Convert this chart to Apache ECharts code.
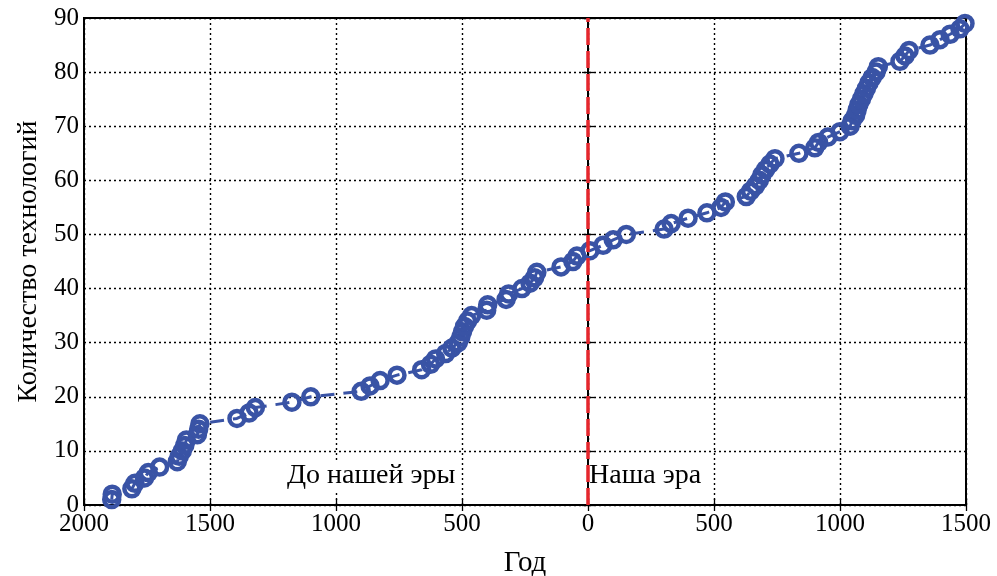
<!DOCTYPE html>
<html>
<head>
<meta charset="utf-8">
<script src="https://cdn.jsdelivr.net/npm/echarts@6/dist/echarts.min.js"></script>
<style>html,body{margin:0;padding:0;background:#fff}#c{width:997px;height:576px}</style>
</head>
<body>
<div id="c"></div>
<script>
// Years (negative = BC) and cumulative count of technologies
const years = [-1890,-1888,-1810,-1798,-1760,-1745,-1700,-1630,-1622,-1610,
  -1600,-1594,-1550,-1545,-1540,-1393,-1345,-1320,-1175,-1100,
  -900,-865,-825,-758,-660,-625,-605,-565,-540,-515,
  -505,-498,-490,-478,-462,-402,-398,-325,-315,-262,
  -230,-212,-203,-107,-60,-44,8,60,100,152,
  302,330,397,472,528,545,628,645,665,680,
  690,705,722,742,837,900,915,952,1000,1040,
  1048,1062,1068,1075,1085,1095,1105,1115,1128,1143,
  1152,1238,1258,1274,1357,1397,1437,1476,1496];
const counts = [1,2,3,4,5,6,7,8,9,10,
  11,12,13,14,15,16,17,18,19,20,
  21,22,23,24,25,26,27,28,29,30,
  31,32,33,34,35,36,37,38,39,40,
  41,42,43,44,45,46,47,48,49,50,
  51,52,53,54,55,56,57,58,59,60,
  61,62,63,64,65,66,67,68,69,70,
  71,72,73,74,75,76,77,78,79,80,
  81,82,83,84,85,86,87,88,89];
const xTicks = [-2000,-1500,-1000,-500,0,500,1000,1500];
const yTicks = [0,10,20,30,40,50,60,70,80,90];
const eraLabels = ['До нашей эры','Наша эра'];
const xTitle = 'Год';
const yTitle = 'Количество технологий';

const FONT = '"Liberation Serif", "DejaVu Serif", serif';
const data = years.map((y, i) => [y, counts[i]]);
const blue = '#3953a5';

const chart = echarts.init(document.getElementById('c'));
const gridLine = {show: true, lineStyle: {color: '#000', type: [2, 3], width: 1.4}};
chart.setOption({
  animation: false,
  backgroundColor: '#fff',
  grid: {left: 84, right: 31, top: 18, bottom: 71, show: true, borderColor: '#000', borderWidth: 2,
         containLabel: false, outerBoundsMode: 'none'},
  xAxis: [{
    type: 'value', min: xTicks[0], max: xTicks[xTicks.length - 1], interval: 500,
    name: xTitle, nameLocation: 'middle', nameGap: 44,
    nameTextStyle: {fontFamily: FONT, fontSize: 29, color: '#000'},
    axisLine: {show: true, onZero: false, lineStyle: {color: '#000', width: 2}},
    axisTick: {show: true, inside: true, length: 6, lineStyle: {color: '#000', width: 1.3}},
    axisLabel: {fontFamily: FONT, fontSize: 25, color: '#000', margin: 7, formatter: v => String(Math.abs(v))},
    splitLine: gridLine
  }, {
    type: 'value', position: 'top', min: xTicks[0], max: xTicks[xTicks.length - 1], interval: 500,
    axisLine: {show: true, lineStyle: {color: '#000', width: 2}},
    axisTick: {show: true, inside: true, length: 6, lineStyle: {color: '#000', width: 1.3}},
    axisLabel: {show: false}, splitLine: {show: false}
  }],
  yAxis: [{
    type: 'value', min: yTicks[0], max: yTicks[yTicks.length - 1], interval: 10,
    name: yTitle, nameLocation: 'middle', nameGap: 40, nameRotate: 90,
    nameTextStyle: {fontFamily: FONT, fontSize: 28, color: '#000'},
    axisLine: {show: true, lineStyle: {color: '#000', width: 2}},
    axisTick: {show: true, inside: true, length: 6, lineStyle: {color: '#000', width: 1.3}},
    axisLabel: {fontFamily: FONT, fontSize: 25, color: '#000', margin: 5},
    splitLine: gridLine
  }, {
    type: 'value', position: 'right', min: yTicks[0], max: yTicks[yTicks.length - 1], interval: 10,
    axisLine: {show: true, lineStyle: {color: '#000', width: 2}},
    axisTick: {show: true, inside: true, length: 6, lineStyle: {color: '#000', width: 1.3}},
    axisLabel: {show: false}, splitLine: {show: false}
  }],
  series: [{
    type: 'line', data: data, xAxisIndex: 0, yAxisIndex: 0,
    symbol: 'circle', symbolSize: 15,
    itemStyle: {color: 'rgba(255,255,255,0)', borderColor: blue, borderWidth: 4.5, opacity: 1},
    lineStyle: {color: blue, width: 3, type: [14, 9]},
    z: 5
  }, {
    type: 'line', data: [], z: 30, zlevel: 0,
    markLine: {
      silent: true, symbol: 'none', animation: false, z: 30,
      lineStyle: {color: '#e5262c', width: 3.5, type: [17, 6], opacity: 1},
      label: {show: false},
      data: [{xAxis: 0}]
    }
  }],
  graphic: [
    {type: 'text', left: 285, top: 462, z: 20,
     style: {text: eraLabels[0], font: '28px ' + FONT, fill: '#000', backgroundColor: '#fff', padding: [0, 2]}},
    {type: 'text', left: 589, top: 462, z: 20,
     style: {text: eraLabels[1], font: '28px ' + FONT, fill: '#000', backgroundColor: '#fff', padding: [0, 2, 0, 0]}}
  ]
});
</script>
</body>
</html>
